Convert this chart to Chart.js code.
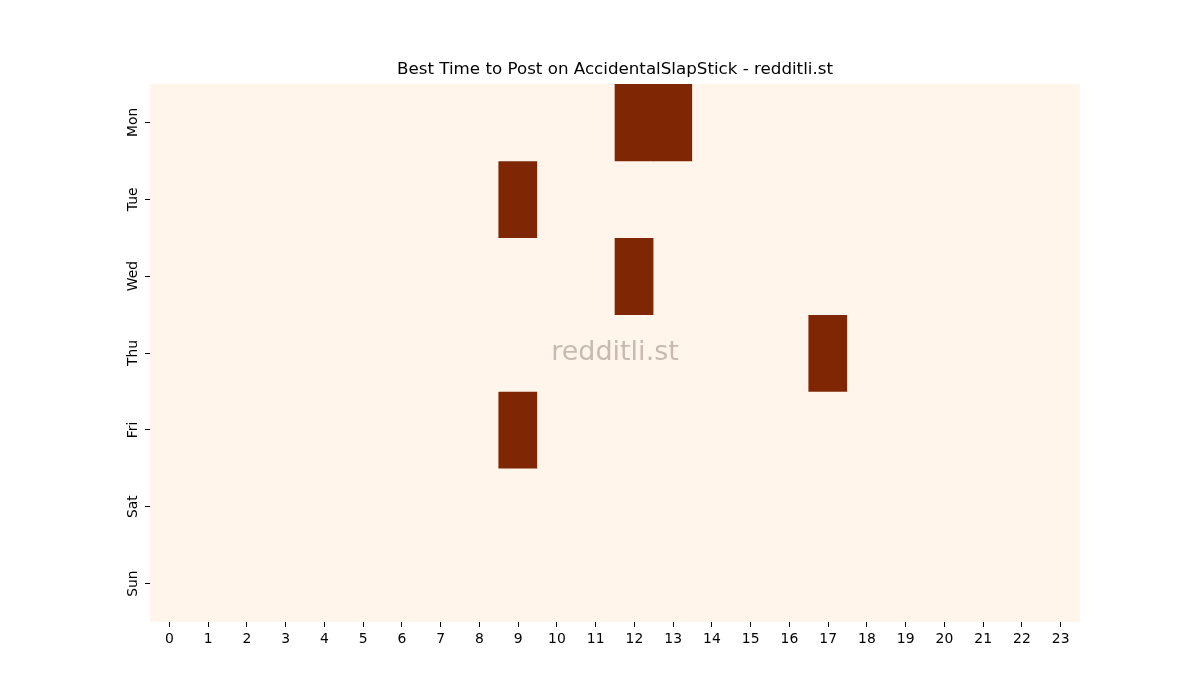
<!DOCTYPE html>
<html>
<head>
<meta charset="utf-8">
<script src="https://cdn.jsdelivr.net/npm/chart.js@4.4.0/dist/chart.umd.min.js"></script>
<style>
  html, body { margin: 0; padding: 0; background: #fff; }
</style>
</head>
<body>
<canvas id="heatChart" width="1200" height="700"></canvas>
<script>
// =========================
// DATA
// =========================

const chartTitle = "Best Time to Post on AccidentalSlapStick - redditli.st";

const hours = ["0", "1", "2", "3", "4", "5", "6", "7", "8", "9", "10", "11",
  "12", "13", "14", "15", "16", "17", "18", "19", "20", "21", "22", "23"];

const days = ["Mon", "Tue", "Wed", "Thu", "Fri", "Sat", "Sun"];

const monVals = [0, 0, 0, 0, 0, 0, 0, 0, 0, 0, 0, 0, 1, 1, 0, 0, 0, 0, 0, 0, 0, 0, 0, 0];
const tueVals = [0, 0, 0, 0, 0, 0, 0, 0, 0, 1, 0, 0, 0, 0, 0, 0, 0, 0, 0, 0, 0, 0, 0, 0];
const wedVals = [0, 0, 0, 0, 0, 0, 0, 0, 0, 0, 0, 0, 1, 0, 0, 0, 0, 0, 0, 0, 0, 0, 0, 0];
const thuVals = [0, 0, 0, 0, 0, 0, 0, 0, 0, 0, 0, 0, 0, 0, 0, 0, 0, 1, 0, 0, 0, 0, 0, 0];
const friVals = [0, 0, 0, 0, 0, 0, 0, 0, 0, 1, 0, 0, 0, 0, 0, 0, 0, 0, 0, 0, 0, 0, 0, 0];
const satVals = [0, 0, 0, 0, 0, 0, 0, 0, 0, 0, 0, 0, 0, 0, 0, 0, 0, 0, 0, 0, 0, 0, 0, 0];
const sunVals = [0, 0, 0, 0, 0, 0, 0, 0, 0, 0, 0, 0, 0, 0, 0, 0, 0, 0, 0, 0, 0, 0, 0, 0];

const rows = [monVals, tueVals, wedVals, thuVals, friVals, satVals, sunVals];

// =========================
// COLOURS (Oranges ends)
// =========================

const lowColor = [255, 245, 235];
const highColor = [127, 39, 4];

function cellColor(v) {
  const c = lowColor.map((l, i) => Math.round(l + (highColor[i] - l) * v));
  return "rgb(" + c.join(",") + ")";
}

// one floating-bar dataset per weekday, all drawn on the same hour slot
const datasets = rows.map((vals, r) => ({
  label: days[r],
  data: vals.map(() => [r - 0.5, r + 0.5]),
  backgroundColor: vals.map(cellColor),
  borderWidth: 0,
  grouped: false,
  barPercentage: 1,
  categoryPercentage: 1,
}));

// =========================
// PLUGINS
// =========================

const areaFill = {
  id: "areaFill",
  beforeDatasetsDraw(chart) {
    const a = chart.chartArea;
    const ctx = chart.ctx;
    ctx.save();
    ctx.fillStyle = cellColor(0);
    ctx.fillRect(a.left, a.top, a.right - a.left, a.bottom - a.top);
    ctx.restore();
  },
};

const labels = {
  id: "labels",
  afterDraw(chart) {
    const a = chart.chartArea;
    const ctx = chart.ctx;
    const yScale = chart.scales.y;
    ctx.save();

    // title, centred on the plot
    ctx.font = "16.7px 'DejaVu Sans'";
    ctx.fillStyle = "#000";
    ctx.textAlign = "center";
    ctx.textBaseline = "middle";
    ctx.fillText(chartTitle, (a.left + a.right) / 2, 70);

    // rotated weekday labels
    ctx.font = "13.9px 'DejaVu Sans'";
    ctx.textBaseline = "bottom";
    days.forEach((d, i) => {
      const y = yScale.getPixelForValue(i);
      ctx.save();
      ctx.translate(a.left - 10, y);
      ctx.rotate(-Math.PI / 2);
      ctx.fillText(d, 0, 0);
      ctx.restore();
    });

    // watermark
    ctx.font = "27px 'DejaVu Sans'";
    ctx.fillStyle = "#c8bab1";
    ctx.textBaseline = "middle";
    ctx.fillText("redditli.st", (a.left + a.right) / 2, (a.top + a.bottom) / 2);
    ctx.restore();
  },
};

const tickFont = { family: "'DejaVu Sans'", size: 13.9 };

// =========================
// CHART
// =========================

new Chart(document.getElementById("heatChart"), {
  type: "bar",
  data: { labels: hours, datasets: datasets },
  options: {
    responsive: false,
    animation: false,
    devicePixelRatio: 1,
    layout: { padding: { left: 0, right: 120, top: 84, bottom: 0 } },
    plugins: {
      legend: { display: false },
      tooltip: { enabled: false },
      title: { display: false },
    },
    scales: {
      x: {
        type: "category",
        offset: true,
        grid: { offset: false, drawOnChartArea: false, drawTicks: true, tickLength: 5, color: "#000" },
        border: { display: false },
        ticks: { color: "#000", font: tickFont, padding: 4, maxRotation: 0, autoSkip: false },
        afterFit(scale) { scale.height = 78; },
      },
      y: {
        type: "linear",
        reverse: true,
        min: -0.5,
        max: 6.5,
        afterBuildTicks(scale) { scale.ticks = days.map((d, i) => ({ value: i })); },
        grid: { drawOnChartArea: false, drawTicks: true, tickLength: 5, color: "#000" },
        border: { display: false },
        ticks: { display: false },
        afterFit(scale) { scale.width = 150; },
      },
    },
  },
  plugins: [areaFill, labels],
});
</script>
</body>
</html>
